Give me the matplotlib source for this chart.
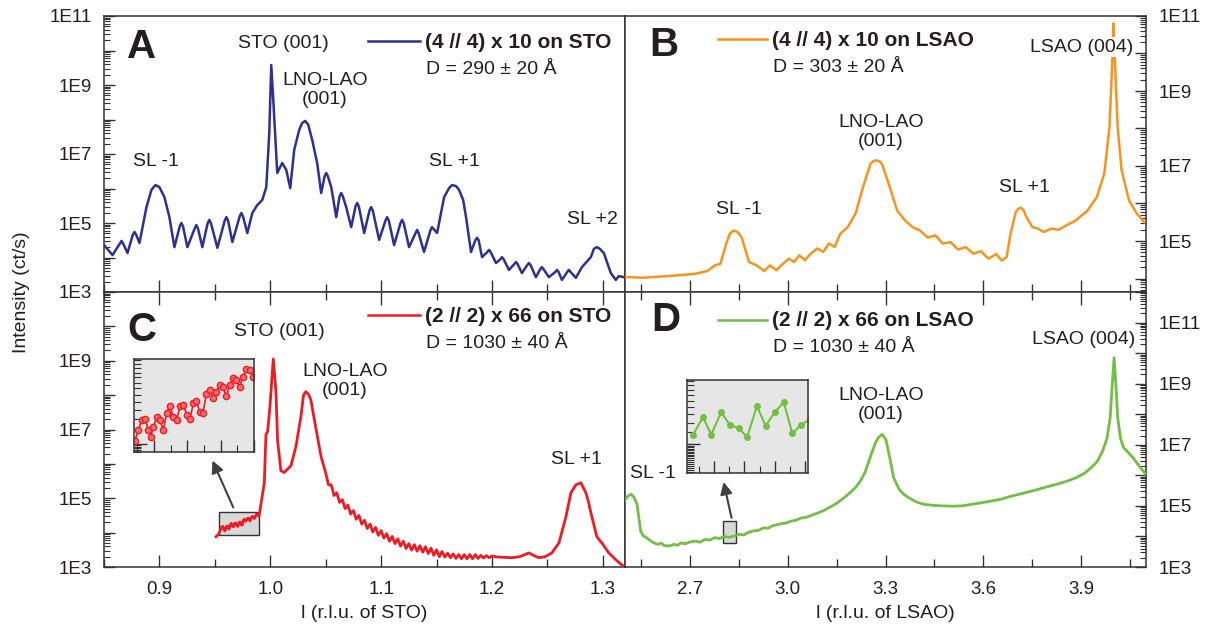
import numpy as np
import matplotlib.pyplot as plt
from matplotlib.lines import Line2D
from matplotlib.patches import Rectangle
from matplotlib.ticker import (MultipleLocator, LogLocator, FixedLocator, FuncFormatter,
                               NullFormatter)

plt.rcParams['font.family'] = ['Liberation Sans', 'DejaVu Sans']

W, H = 1216, 632
TXT = '#231f20'
BLUE = '#2e3192'
ORANGE = '#f7941d'
RED = '#ed1c24'
GREEN = '#72bf44'

# ---- data: (l in r.l.u., log10 intensity) ----
# A: (4 // 4) x 10 on STO
a_pts = [(0.850, 4.36), (0.8577, 4.07), (0.8643, 4.40), (0.8658, 4.48), (0.8673, 4.40),
         (0.8712, 4.13), (0.8760, 4.66), (0.8775, 4.74), (0.8790, 4.66), (0.8820, 4.42),
         (0.8883, 5.46), (0.8928, 5.96), (0.8964, 6.10), (0.9000, 6.04), (0.9045, 5.75),
         (0.9090, 5.17), (0.9135, 4.30), (0.9183, 4.90), (0.9198, 5.00), (0.9213, 4.90),
         (0.9252, 4.30), (0.9318, 4.84), (0.9333, 4.94), (0.9348, 4.84), (0.9387, 4.30),
         (0.9435, 4.99), (0.9450, 5.09), (0.9465, 4.99), (0.9523, 4.28), (0.9589, 5.07),
         (0.9604, 5.17), (0.9619, 5.07), (0.9658, 4.45), (0.9724, 5.19), (0.9739, 5.29),
         (0.9754, 5.19), (0.9793, 4.71), (0.9838, 5.29), (0.9883, 5.52), (0.9928, 5.67),
         (0.9964, 6.04), (0.9991, 7.61), (1.0009, 9.58), (1.0027, 8.57), (1.0063, 6.45),
         (1.0108, 6.74), (1.0144, 6.54), (1.0180, 6.01), (1.0216, 7.12), (1.0261, 7.70),
         (1.0288, 7.90), (1.0315, 7.96), (1.0342, 7.85), (1.0378, 7.41), (1.0423, 6.74),
         (1.0459, 5.87), (1.0490, 6.35), (1.0505, 6.45), (1.0520, 6.35), (1.0550, 6.04),
         (1.0595, 5.17), (1.0625, 5.77), (1.0640, 5.87), (1.0655, 5.77), (1.0685, 5.46),
         (1.0730, 4.88), (1.0769, 5.48), (1.0784, 5.58), (1.0799, 5.48), (1.0847, 4.71),
         (1.0895, 5.36), (1.0910, 5.46), (1.0925, 5.36), (1.0982, 4.51), (1.1039, 5.07),
         (1.1054, 5.17), (1.1069, 5.07), (1.1117, 4.36), (1.1174, 4.99), (1.1189, 5.09),
         (1.1204, 4.99), (1.1252, 4.30), (1.1309, 4.70), (1.1324, 4.80), (1.1339, 4.70),
         (1.1387, 4.16), (1.1444, 4.78), (1.1459, 4.88), (1.1505, 4.71), (1.1568, 5.75),
         (1.1613, 6.01), (1.1640, 6.10), (1.1676, 6.07), (1.1703, 5.96), (1.1740, 5.67),
         (1.1766, 5.17), (1.1811, 4.16), (1.1850, 4.50), (1.1865, 4.57), (1.1880, 4.50),
         (1.1910, 4.01), (1.1958, 4.16), (1.1973, 4.22), (1.1988, 4.16), (1.2036, 3.84),
         (1.2075, 3.95), (1.2090, 4.01), (1.2105, 3.95), (1.2153, 3.64), (1.2201, 3.81),
         (1.2216, 3.87), (1.2231, 3.81), (1.2270, 3.55), (1.2318, 3.78), (1.2333, 3.84),
         (1.2348, 3.78), (1.2396, 3.43), (1.2435, 3.66), (1.2450, 3.72), (1.2465, 3.66),
         (1.2514, 3.43), (1.2571, 3.58), (1.2586, 3.64), (1.2601, 3.58), (1.2631, 3.35),
         (1.2679, 3.58), (1.2694, 3.64), (1.2709, 3.58), (1.2757, 3.41), (1.2811, 3.72),
         (1.2892, 4.01), (1.2919, 4.25), (1.2946, 4.30), (1.2973, 4.25), (1.3009, 4.13),
         (1.3072, 3.55), (1.3117, 3.35), (1.3144, 3.46), (1.3190, 3.43)]

# B: (4 // 4) x 10 on LSAO
b_pts = [(2.500, 4.04), (2.554, 4.02), (2.624, 4.06), (2.671, 4.09), (2.718, 4.13),
         (2.753, 4.20), (2.776, 4.35), (2.793, 4.39), (2.811, 4.93), (2.822, 5.20),
         (2.834, 5.28), (2.846, 5.24), (2.858, 5.10), (2.881, 4.44), (2.904, 4.35),
         (2.928, 4.20), (2.945, 4.35), (2.965, 4.22), (2.986, 4.40), (3.003, 4.53),
         (3.019, 4.44), (3.035, 4.62), (3.053, 4.49), (3.070, 4.66), (3.091, 4.80),
         (3.109, 4.71), (3.126, 4.93), (3.144, 4.84), (3.161, 5.19), (3.184, 5.37),
         (3.208, 5.73), (3.231, 6.44), (3.254, 7.06), (3.263, 7.13), (3.272, 7.15),
         (3.281, 7.13), (3.289, 7.06), (3.313, 6.44), (3.336, 5.81), (3.360, 5.55),
         (3.383, 5.37), (3.406, 5.28), (3.430, 5.09), (3.453, 5.15), (3.476, 4.93),
         (3.500, 4.97), (3.523, 4.77), (3.546, 4.84), (3.570, 4.66), (3.593, 4.73),
         (3.616, 4.53), (3.640, 4.65), (3.657, 4.48), (3.672, 4.57), (3.684, 5.19),
         (3.700, 5.77), (3.708, 5.86), (3.716, 5.89), (3.724, 5.82), (3.733, 5.64),
         (3.751, 5.37), (3.768, 5.33), (3.786, 5.24), (3.809, 5.33), (3.832, 5.30),
         (3.856, 5.42), (3.885, 5.55), (3.920, 5.81), (3.949, 6.17), (3.972, 6.80),
         (3.988, 8.04), (3.997, 9.91), (4.000, 10.8), (4.004, 9.91), (4.013, 8.04),
         (4.025, 6.89), (4.048, 6.08), (4.072, 5.73), (4.095, 5.50)]

# C: (2 // 2) x 66 on STO; c_zoom_pts is the stretch blown up in the inset
c_start_pts = [(0.951, 3.88), (0.9533, 3.95)]
c_zoom_pts = [(0.9543, 4.02), (0.9553, 4.10), (0.9563, 4.17), (0.9573, 4.18), (0.9583, 4.10),
              (0.9590, 4.05), (0.9598, 4.12), (0.9608, 4.19), (0.9618, 4.17), (0.9628, 4.10),
              (0.9638, 4.22), (0.9648, 4.27), (0.9658, 4.19), (0.9668, 4.17), (0.9678, 4.27),
              (0.9688, 4.28), (0.9698, 4.21), (0.9708, 4.18), (0.9718, 4.29), (0.9727, 4.31),
              (0.9737, 4.23), (0.9747, 4.22), (0.9757, 4.36), (0.9767, 4.39), (0.9777, 4.33),
              (0.9787, 4.37), (0.9797, 4.42), (0.9807, 4.41), (0.9817, 4.34), (0.9827, 4.42),
              (0.9837, 4.47), (0.9847, 4.46), (0.9857, 4.41), (0.9867, 4.48), (0.9877, 4.54),
              (0.9887, 4.53), (0.9897, 4.48)]
c_rest_pts = [(0.9905, 4.60), (0.9946, 5.45), (0.9961, 6.85), (0.9976, 6.94), (0.9997, 7.67),
              (1.0027, 9.05), (1.0051, 8.12), (1.0066, 6.67), (1.0096, 5.80), (1.0126, 5.75),
              (1.0156, 5.85), (1.0186, 5.94), (1.0231, 6.50), (1.0276, 7.37), (1.0300, 8.00),
              (1.0321, 8.10), (1.0345, 8.02), (1.0366, 7.86), (1.0414, 6.99), (1.0459, 6.20),
              (1.0500, 5.74), (1.0525, 5.39), (1.0550, 5.39), (1.0575, 5.08), (1.0600, 5.16),
              (1.0625, 4.88), (1.0650, 4.96), (1.0675, 4.70), (1.0700, 4.80), (1.0725, 4.54),
              (1.0750, 4.64), (1.0775, 4.39), (1.0800, 4.50), (1.0825, 4.25), (1.0850, 4.36),
              (1.0875, 4.12), (1.0900, 4.25), (1.0925, 4.02), (1.0950, 4.15), (1.0975, 3.92),
              (1.1000, 4.06), (1.1025, 3.84), (1.1050, 3.97), (1.1075, 3.75), (1.1100, 3.89),
              (1.1125, 3.68), (1.1150, 3.82), (1.1175, 3.61), (1.1200, 3.75), (1.1225, 3.54),
              (1.1250, 3.68), (1.1275, 3.49), (1.1300, 3.65), (1.1325, 3.46), (1.1350, 3.62),
              (1.1375, 3.43), (1.1400, 3.59), (1.1425, 3.39), (1.1450, 3.55), (1.1475, 3.34),
              (1.1500, 3.50), (1.1525, 3.30), (1.1550, 3.45), (1.1575, 3.29), (1.1600, 3.40),
              (1.1625, 3.27), (1.1650, 3.38), (1.1675, 3.25), (1.1700, 3.36), (1.1725, 3.24),
              (1.1750, 3.36), (1.1775, 3.24), (1.1800, 3.36), (1.1825, 3.24), (1.1850, 3.36),
              (1.1875, 3.25), (1.1900, 3.34), (1.1925, 3.26), (1.1950, 3.33), (1.1975, 3.27),
              (1.2000, 3.32), (1.2050, 3.29), (1.2120, 3.28), (1.2180, 3.27), (1.2250, 3.30),
              (1.2333, 3.41), (1.2380, 3.33), (1.2423, 3.27), (1.2480, 3.30), (1.2540, 3.41),
              (1.2604, 3.70), (1.2667, 4.46), (1.2712, 5.16), (1.2757, 5.39), (1.2802, 5.45),
              (1.2847, 5.16), (1.2870, 4.90), (1.2892, 4.58), (1.2946, 3.88), (1.2991, 3.70),
              (1.3054, 3.41), (1.3117, 3.21), (1.3171, 3.06), (1.3200, 3.00)]

# D: (2 // 2) x 66 on LSAO; d_zoom_pts are the points shown in the inset
d_pts = [(2.500, 5.20), (2.510, 5.33), (2.519, 5.38), (2.528, 5.28), (2.537, 5.05),
         (2.548, 4.18), (2.556, 4.02), (2.566, 3.96), (2.583, 3.82), (2.600, 3.74),
         (2.612, 3.78), (2.620, 3.70), (2.636, 3.69), (2.650, 3.74), (2.662, 3.71),
         (2.671, 3.79), (2.685, 3.76), (2.700, 3.82), (2.718, 3.85), (2.730, 3.81),
         (2.745, 3.90), (2.760, 3.88), (2.776, 3.96), (2.790, 3.93), (2.805, 4.00),
         (2.820, 3.97), (2.834, 4.01), (2.850, 4.07), (2.865, 4.05), (2.880, 4.14),
         (2.893, 4.18), (2.910, 4.20), (2.925, 4.28), (2.940, 4.27), (2.951, 4.34),
         (2.965, 4.38), (2.980, 4.42), (2.995, 4.44), (3.009, 4.50), (3.025, 4.53),
         (3.040, 4.60), (3.055, 4.62), (3.068, 4.67), (3.085, 4.74), (3.100, 4.80),
         (3.113, 4.86), (3.126, 4.94), (3.140, 5.02), (3.155, 5.12), (3.173, 5.27),
         (3.190, 5.42), (3.208, 5.60), (3.222, 5.80), (3.237, 6.09), (3.250, 6.50),
         (3.260, 6.80), (3.270, 7.08), (3.278, 7.23), (3.289, 7.34), (3.301, 7.18),
         (3.313, 6.58), (3.325, 5.92), (3.342, 5.54), (3.356, 5.38), (3.371, 5.27),
         (3.395, 5.13), (3.418, 5.05), (3.445, 5.02), (3.476, 5.00), (3.505, 4.99),
         (3.535, 5.00), (3.565, 5.05), (3.593, 5.10), (3.620, 5.15), (3.651, 5.21),
         (3.680, 5.30), (3.710, 5.38), (3.740, 5.46), (3.768, 5.54), (3.795, 5.62),
         (3.826, 5.71), (3.855, 5.80), (3.885, 5.92), (3.910, 6.06), (3.932, 6.25),
         (3.950, 6.45), (3.967, 6.80), (3.980, 7.20), (3.990, 7.89), (3.996, 8.90),
         (4.002, 9.85), (4.008, 8.90), (4.013, 7.89), (4.022, 7.20), (4.031, 6.91),
         (4.045, 6.75), (4.060, 6.58), (4.083, 6.25), (4.100, 6.03)]
d_zoom_pts = [(2.8030, 4.08), (2.8063, 4.22), (2.8090, 4.08), (2.8123, 4.26), (2.8151, 4.16),
              (2.8181, 4.13), (2.8209, 4.06), (2.8241, 4.31), (2.8270, 4.15), (2.8300, 4.26),
              (2.8330, 4.34), (2.8358, 4.09), (2.8388, 4.16), (2.8415, 4.20)]


def split(pts):
    l, logI = zip(*pts)
    return np.array(l), 10 ** np.array(logI)


def fx(px):
    return px / W


def fy(py):
    return 1 - py / H


def make_axes(x0, y0, x1, y1):
    # pixel box -> figure fraction
    return fig.add_axes([fx(x0), fy(y1), (x1 - x0) / W, (y1 - y0) / H])


def dec_fmt(hide=()):
    def f(v, pos):
        e = int(round(np.log10(v)))
        if e % 2 == 0 or e in hide:
            return ''
        return '1E%d' % e
    return f


def style(ax, side, top_ticks, bottom_labels, xmaj, xmin, ylo, yhi, hide=()):
    ax.set_yscale('log')
    ax.set_ylim(10 ** ylo, 10 ** yhi)
    decades = np.arange(np.ceil(ylo), np.floor(yhi) + 1)
    ax.yaxis.set_major_locator(FixedLocator(10 ** decades))
    ax.yaxis.set_minor_locator(LogLocator(base=10, subs=np.arange(2, 10), numticks=30))
    ax.yaxis.set_major_formatter(FuncFormatter(dec_fmt(hide)))
    ax.yaxis.set_minor_formatter(NullFormatter())
    ax.xaxis.set_major_locator(MultipleLocator(xmaj))
    ax.xaxis.set_minor_locator(MultipleLocator(xmin))
    ax.xaxis.set_major_formatter(FuncFormatter(lambda v, p: '%.1f' % v))
    left = side == 'left'
    ax.tick_params(axis='y', which='both', direction='in', left=left, right=not left,
                   labelleft=left, labelright=not left, labelsize=13.5,
                   labelcolor=TXT, pad=9, color='#333333')
    ax.tick_params(axis='y', which='major', length=8, width=1)
    ax.tick_params(axis='y', which='minor', length=4, width=0.8)
    ax.tick_params(axis='x', which='both', direction='in', bottom=True, top=top_ticks,
                   labelbottom=bottom_labels, labelsize=13.5, labelcolor=TXT, pad=10,
                   color='#333333')
    ax.tick_params(axis='x', which='major', length=9, width=1)
    ax.tick_params(axis='x', which='minor', length=6, width=1)
    for s in ax.spines.values():
        s.set_color('#333333')
        s.set_linewidth(1.1)


def txt(px, py, s, ha='center', **kw):
    kw.setdefault('fontsize', 14)
    fig.text(fx(px), fy(py), s, ha=ha, va='center', color=TXT, **kw)


def legend_entry(x0, x1, py, color, title, dline, dy):
    fig.add_artist(Line2D([fx(x0), fx(x1)], [fy(py), fy(py)], color=color, lw=1.8,
                          transform=fig.transFigure))
    txt(x1 + 5, py + 1, title, ha='left', fontsize=15, fontweight='bold')
    txt(x1 + 6, py + dy, dline, ha='left')


fig = plt.figure(figsize=(W / 100, H / 100), dpi=100)

axA = make_axes(104, 16, 625, 292)
axB = make_axes(625, 16, 1146, 292)
axC = make_axes(104, 292, 625, 567)
axD = make_axes(625, 292, 1146, 567)

axA.plot(*split(a_pts), color=BLUE, lw=1.8, zorder=3)
axB.plot(*split(b_pts), color=ORANGE, lw=1.8, zorder=3)
axC.plot(*split(c_start_pts + c_zoom_pts + c_rest_pts), color=RED, lw=2.0, zorder=3)
axD.plot(*split(d_pts), color=GREEN, lw=2.0, zorder=3)

style(axA, 'left', False, False, 0.1, 0.05, 3, 11)
style(axB, 'right', False, False, 0.3, 0.15, 3.64, 11)
style(axC, 'left', True, True, 0.1, 0.05, 3, 11, hide=(11,))
style(axD, 'right', True, True, 0.3, 0.15, 3, 12)

for ax in (axA, axC):
    ax.set_xlim(0.85, 1.32)
for ax in (axB, axD):
    ax.set_xlim(2.5, 4.1)

axC.set_xlabel('l (r.l.u. of STO)', fontsize=14, color=TXT, labelpad=5)
axD.set_xlabel('l (r.l.u. of LSAO)', fontsize=14, color=TXT, labelpad=5)
fig.text(fx(22), fy(292), 'Intensity (ct/s)', rotation=90, ha='center', va='center',
         fontsize=14, color=TXT)

# zoom boxes and arrows
axC.add_patch(Rectangle((0.954, 10 ** 3.94), 0.036, 10 ** 4.61 - 10 ** 3.94,
                        facecolor='#d9d9d9', edgecolor='#333333', lw=1, zorder=2))
axD.add_patch(Rectangle((2.801, 10 ** 3.77), 0.040, 10 ** 4.52 - 10 ** 3.77,
                        facecolor='#d9d9d9', edgecolor='#333333', lw=1, zorder=2))
arrow = dict(arrowstyle='-|>', color='#404040', lw=1.5, mutation_scale=18)
axC.annotate('', xy=(0.9468, 10 ** 6.17), xytext=(0.9676, 10 ** 4.66), arrowprops=arrow)
axD.annotate('', xy=(2.801, 10 ** 5.87), xytext=(2.829, 10 ** 4.52), arrowprops=arrow)

# insets
insC = make_axes(134, 359, 254, 452)
insC.set_facecolor('#e6e6e6')
insC.plot(*split(c_zoom_pts), color=RED, lw=1.2, marker='o', ms=4.5,
          mfc='#f26d6d', mec=RED, mew=1)
insC.set_xlim(0.954, 0.990)
insC.set_ylim(10 ** 3.94, 10 ** 4.61)

insD = make_axes(687, 380, 808, 473)
insD.set_facecolor('#e6e6e6')
insD.plot(*split(d_zoom_pts), color=GREEN, lw=1.5, marker='o', ms=4,
          mfc=GREEN, mec=GREEN)
insD.set_xlim(2.801, 2.841)
insD.set_ylim(10 ** 3.77, 10 ** 4.52)

for ins in (insC, insD):
    ins.set_yscale('log')
    ins.yaxis.set_major_locator(FixedLocator([1e4]))
    ins.yaxis.set_minor_locator(LogLocator(base=10, subs=np.arange(1, 10, 0.25), numticks=10))
    ins.xaxis.set_major_locator(MultipleLocator(0.01))
    ins.xaxis.set_minor_locator(MultipleLocator(0.005))
    ins.tick_params(which='both', direction='in', labelbottom=False, labelleft=False,
                    color='#333333')
    ins.tick_params(which='major', length=9, width=1)
    ins.tick_params(which='minor', length=5, width=0.8)
    ins.yaxis.set_minor_formatter(NullFormatter())
    for s in ins.spines.values():
        s.set_color('#333333')
        s.set_linewidth(1.1)

# panel A texts
txt(127, 47, 'A', ha='left', fontsize=29, fontweight='bold')
txt(283, 43, 'STO (001)')
txt(325, 90, 'LNO-LAO\n(001)', linespacing=1.2)
txt(156, 161, 'SL -1')
txt(454, 162, 'SL +1')
txt(592, 219, 'SL +2')
legend_entry(368, 420, 41, BLUE, '(4 // 4) x 10 on STO', 'D = 290 \u00b1 20 \u00c5', 29)

# panel B texts
txt(649, 45, 'B', ha='left', fontsize=29, fontweight='bold')
txt(1082, 47, 'LSAO (004)', bbox=dict(facecolor='white', edgecolor='none', pad=1.0))
txt(881, 132, 'LNO-LAO\n(001)', linespacing=1.2)
txt(739, 209, 'SL -1')
txt(1024, 187, 'SL +1')
legend_entry(718, 767, 39, ORANGE, '(4 // 4) x 10 on LSAO', 'D = 303 \u00b1 20 \u00c5', 28)

# panel C texts
txt(127, 330, 'C', ha='left', fontsize=29, fontweight='bold')
txt(279, 332, 'STO (001)')
txt(345, 381, 'LNO-LAO\n(001)', linespacing=1.2)
txt(576, 460, 'SL +1')
legend_entry(368, 420, 315, RED, '(2 // 2) x 66 on STO', 'D = 1030 \u00b1 40 \u00c5', 28)

# panel D texts
txt(651, 320, 'D', ha='left', fontsize=29, fontweight='bold')
txt(1084, 339, 'LSAO (004)')
txt(881, 405, 'LNO-LAO\n(001)', linespacing=1.2)
txt(653, 473, 'SL -1')
legend_entry(718, 767, 320, GREEN, '(2 // 2) x 66 on LSAO', 'D = 1030 \u00b1 40 \u00c5', 27)

fig.savefig('out.png', dpi=100)
